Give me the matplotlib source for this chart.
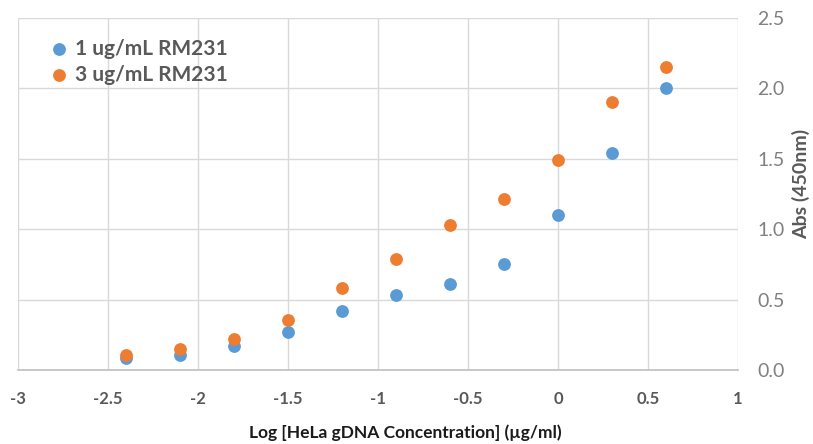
import matplotlib.pyplot as plt
import numpy as np

# Data
log_conc = [-2.4, -2.1, -1.8, -1.5, -1.2, -0.9, -0.6, -0.3, 0.0, 0.3, 0.6]
abs_1ug = [0.085, 0.11, 0.17, 0.27, 0.42, 0.53, 0.61, 0.75, 1.10, 1.54, 2.00]
abs_3ug = [0.11, 0.15, 0.22, 0.355, 0.58, 0.785, 1.03, 1.215, 1.49, 1.905, 2.155]
series_labels = ['1 ug/mL RM231', '3 ug/mL RM231']
x_ticks = [-3, -2.5, -2, -1.5, -1, -0.5, 0, 0.5, 1]
x_tick_labels = ['-3', '-2.5', '-2', '-1.5', '-1', '-0.5', '0', '0.5', '1']
y_ticks = [0.0, 0.5, 1.0, 1.5, 2.0, 2.5]

plt.rcParams['font.family'] = ['Lato', 'DejaVu Sans']

fig = plt.figure(figsize=(8.13, 4.44), dpi=100)
ax = fig.add_axes([18 / 813, 74 / 444, 720 / 813, 352 / 444])

ax.scatter(log_conc, abs_1ug, s=85, color='#5B9BD5', label=series_labels[0], zorder=3, linewidths=0)
ax.scatter(log_conc, abs_3ug, s=85, color='#ED7D31', label=series_labels[1], zorder=3, linewidths=0)

ax.set_xlim(-3, 1)
ax.set_ylim(0, 2.5)
ax.set_xticks(x_ticks)
ax.set_xticklabels(x_tick_labels, fontweight='bold', color='#595959', fontsize=12)
ax.set_yticks(y_ticks)
ax.set_yticklabels([f'{v:.1f}' for v in y_ticks], color='#808080', fontsize=14)
ax.yaxis.tick_right()
ax.yaxis.set_label_position('right')
ax.tick_params(axis='x', length=0, pad=15)
ax.tick_params(axis='y', length=0, pad=14)

ax.grid(True, color='#D9D9D9', linewidth=1)
ax.set_axisbelow(True)
for side in ['top', 'right', 'left']:
    ax.spines[side].set_visible(False)
ax.spines['bottom'].set_color('#BFBFBF')
ax.spines['bottom'].set_linewidth(1.2)

ax.set_xlabel('Log [HeLa gDNA Concentration] (µg/ml)', fontweight='bold', fontsize=12.5,
              color='#1a1a1a', va='center')
ax.xaxis.set_label_coords(0.5375, -0.179)
ax.set_ylabel('Abs (450nm)', fontweight='bold', fontsize=14, color='#595959',
              rotation=90, va='center')
ax.yaxis.set_label_coords(1.088, 0.53)

leg = ax.legend(loc='upper left', bbox_to_anchor=(0.017, 0.965), frameon=False,
                handletextpad=-0.25, labelspacing=0.3, borderaxespad=0,
                prop={'weight': 'bold', 'size': 15})
for t in leg.get_texts():
    t.set_color('#595959')

fig.savefig('out.png', dpi=100)
